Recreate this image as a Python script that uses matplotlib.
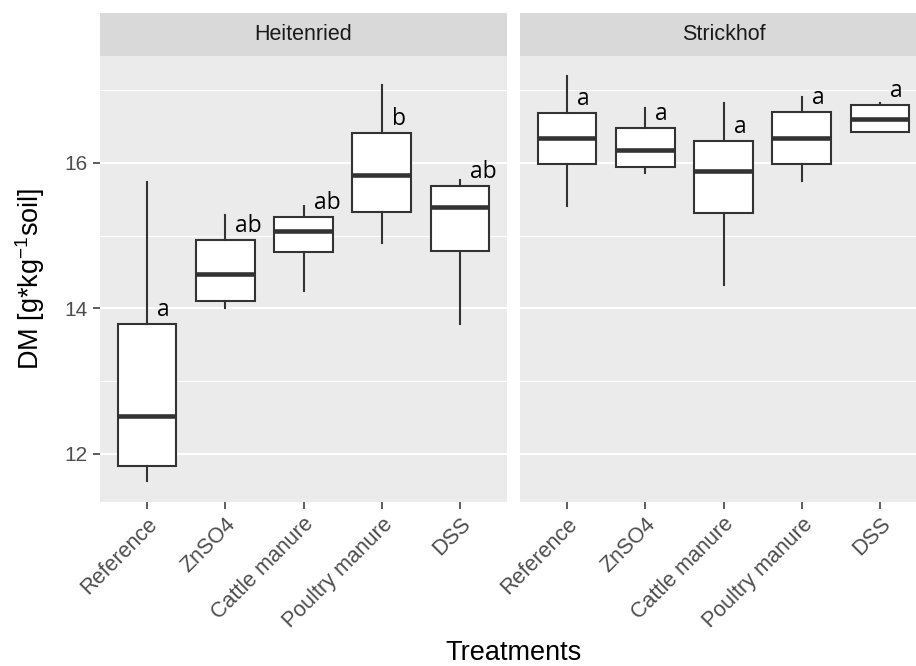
import numpy as np
import matplotlib
matplotlib.use("Agg")
import matplotlib.pyplot as plt
from matplotlib.ticker import FixedLocator

plt.rcParams['font.family'] = ['Liberation Sans', 'DejaVu Sans']
plt.rcParams['mathtext.fontset'] = 'custom'
plt.rcParams['mathtext.rm'] = 'Liberation Sans'
plt.rcParams['mathtext.default'] = 'regular'

sites = ["Heitenried", "Strickhof"]
treatments = ["Reference", "ZnSO4", "Cattle manure", "Poultry manure", "DSS"]

# box statistics (DM in g/kg soil)
heit_low = [11.63, 14.00, 14.24, 14.90, 13.79]
heit_q1 = [11.84, 14.10, 14.77, 15.33, 14.79]
heit_med = [12.52, 14.48, 15.07, 15.83, 15.40]
heit_q3 = [13.79, 14.94, 15.26, 16.41, 15.69]
heit_high = [15.74, 15.28, 15.41, 17.07, 15.76]
heit_letters = ["a", "ab", "ab", "b", "ab"]

strick_low = [15.41, 15.86, 14.32, 15.75, 16.42]
strick_q1 = [15.98, 15.95, 15.31, 15.98, 16.42]
strick_med = [16.35, 16.18, 15.89, 16.34, 16.60]
strick_q3 = [16.69, 16.48, 16.30, 16.70, 16.80]
strick_high = [17.20, 16.76, 16.82, 16.91, 16.82]
strick_letters = ["a", "a", "a", "a", "a"]

panels = [
    (heit_low, heit_q1, heit_med, heit_q3, heit_high, heit_letters),
    (strick_low, strick_q1, strick_med, strick_q3, strick_high, strick_letters),
]

W, H = 916, 666
fig = plt.figure(figsize=(W / 100, H / 100), dpi=100)
fig.set_facecolor('white')

# panel geometry in pixels (right panel runs past the cropped edge)
panel_left = [100, 520]
panel_w = 407
panel_top, panel_bot = 55.7, 501.7
strip_top = 13.0

dark = '#333333'
pos = np.arange(1, len(treatments) + 1)

for i, (lo, q1, med, q3, hi, letters) in enumerate(panels):
    ax = fig.add_axes([panel_left[i] / W, (H - panel_bot) / H,
                       panel_w / W, (panel_bot - panel_top) / H])
    ax.set_facecolor('#EBEBEB')
    stats = [dict(whislo=lo[k], q1=q1[k], med=med[k], q3=q3[k], whishi=hi[k])
             for k in range(len(treatments))]
    ax.bxp(stats, positions=pos, widths=0.75, showfliers=False, showcaps=False,
           patch_artist=True,
           boxprops=dict(facecolor='white', edgecolor=dark, linewidth=1.5),
           medianprops=dict(color=dark, linewidth=3.3, solid_capstyle='butt'),
           whiskerprops=dict(color=dark, linewidth=1.5))
    for k in range(len(treatments)):
        ax.text(pos[k] + 0.13, q3[k] + 0.11, letters[k], ha='left', va='baseline',
                fontsize=16.5, family=['Open Sans', 'DejaVu Sans'], color='black')

    ax.set_xlim(0.4, 5.6)
    ax.set_ylim(11.344, 17.475)
    ax.yaxis.set_major_locator(FixedLocator([12, 14, 16]))
    ax.yaxis.set_minor_locator(FixedLocator([13, 15, 17]))
    ax.grid(which='major', axis='y', color='white', linewidth=1.5)
    ax.grid(which='minor', axis='y', color='white', linewidth=0.75)
    ax.set_axisbelow(True)
    for s in ax.spines.values():
        s.set_visible(False)

    ax.set_xticks(pos)
    ax.set_xticklabels(treatments, rotation=45, ha='right', va='top',
                       rotation_mode='anchor', fontsize=15.5, color='#4D4D4D')
    ax.tick_params(axis='x', length=4.7, width=1.1, color=dark, pad=4)
    ax.tick_params(axis='y', which='minor', length=0)
    if i == 0:
        ax.set_yticklabels(['12', '14', '16'], fontsize=15, color='#4D4D4D')
        ax.tick_params(axis='y', which='major', length=4.7, width=1.1,
                       color=dark, pad=4.5)
    else:
        ax.tick_params(axis='y', which='major', length=0, labelleft=False)

    # facet strip
    sax = fig.add_axes([panel_left[i] / W, (H - panel_top) / H,
                        panel_w / W, (panel_top - strip_top) / H])
    sax.set_facecolor('#D9D9D9')
    sax.set_xticks([])
    sax.set_yticks([])
    for s in sax.spines.values():
        s.set_visible(False)
    sax.text(0.5, 0.5, sites[i], ha='center', va='center', fontsize=15.5,
             color='#1A1A1A', transform=sax.transAxes)

fig.text(513.5 / W, 1 - 660 / H, 'Treatments', ha='center', va='baseline',
         fontsize=19.5, color='black')
fig.text(47.5 / W, 1 - 278.7 / H, r'DM [g*kg$^{-1}$soil]', ha='right',
         va='center', rotation=90, fontsize=19.5, color='black')

fig.savefig('out.png', dpi=100, facecolor=fig.get_facecolor())
